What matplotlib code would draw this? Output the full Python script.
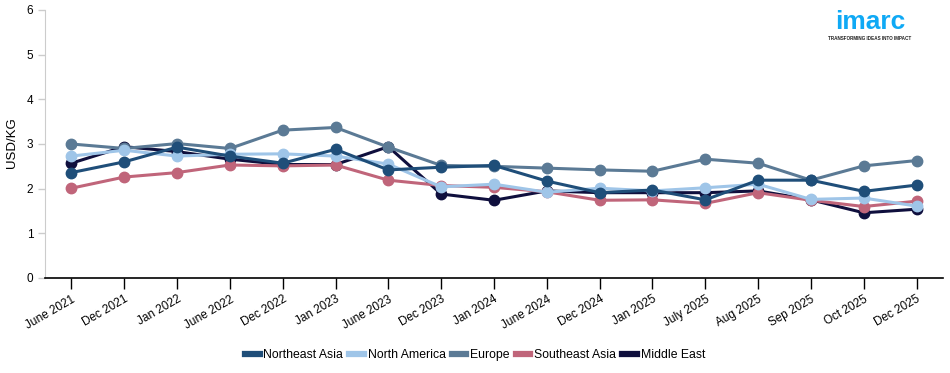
import matplotlib.pyplot as plt
from matplotlib.lines import Line2D

plt.rcParams['font.family'] = ['Liberation Sans', 'DejaVu Sans']

dates = ["June 2021", "Dec 2021", "Jan 2022", "June 2022", "Dec 2022", "Jan 2023",
         "June 2023", "Dec 2023", "Jan 2024", "June 2024", "Dec 2024", "Jan 2025",
         "July 2025", "Aug 2025", "Sep 2025", "Oct 2025", "Dec 2025"]

northeast_asia = [2.36, 2.60, 2.93, 2.73, 2.57, 2.88, 2.42, 2.48, 2.52, 2.17, 1.91, 1.97,
                  1.75, 2.19, 2.19, 1.94, 2.08]
north_america = [2.73, 2.86, 2.73, 2.77, 2.78, 2.73, 2.55, 2.04, 2.10, 1.92, 2.01, 1.95,
                 2.02, 2.10, 1.76, 1.79, 1.61]
europe = [3.00, 2.90, 3.01, 2.90, 3.31, 3.37, 2.93, 2.52, 2.50, 2.46, 2.42, 2.39,
          2.66, 2.57, 2.19, 2.51, 2.63]
southeast_asia = [2.01, 2.26, 2.36, 2.53, 2.51, 2.53, 2.19, 2.07, 2.03, 1.93, 1.74, 1.75,
                  1.67, 1.91, 1.74, 1.60, 1.72]
middle_east = [2.57, 2.94, 2.83, 2.66, 2.54, 2.54, 2.94, 1.88, 1.74, 1.95, 1.91, 1.91,
               1.91, 1.95, 1.75, 1.46, 1.54]

series = [
    ("Northeast Asia", northeast_asia, "#1f4e79", 6),
    ("North America", north_america, "#9fc5e8", 5),
    ("Europe", europe, "#5b7a95", 4),
    ("Southeast Asia", southeast_asia, "#c0657a", 3),
    ("Middle East", middle_east, "#0f0f3d", 2),
]

fig = plt.figure(figsize=(9.5, 3.73), dpi=100)
ax = fig.add_axes([45 / 950, 1 - 278 / 373, 898 / 950, 268 / 373])

x = list(range(len(dates)))
for name, vals, color, z in series:
    ax.plot(x, vals, '-o', color=color, lw=2.2, markersize=7.5, zorder=z, label=name)

ax.set_xlim(-0.5, len(dates) - 0.5)
ax.set_ylim(0, 6)
ax.set_yticks(range(0, 7))
ax.set_xticks(x)
ax.set_xticklabels(dates, rotation=30, ha='right', rotation_mode='anchor', fontsize=8.5)
ax.tick_params(axis='x', length=8, width=1, color='black', pad=3)
ax.tick_params(axis='y', length=5, width=1, color='#cccccc', labelsize=8.5)

for s in ['top', 'right']:
    ax.spines[s].set_visible(False)
ax.spines['left'].set_color('#cccccc')
ax.spines['bottom'].set_color('black')
ax.spines['bottom'].set_linewidth(1.2)

fig.text(12 / 950, 1 - 143 / 373, "USD/KG", rotation=90, ha='center', va='center', fontsize=9.5)

handles = [Line2D([0], [0], color=c, lw=4.5) for _, _, c, _ in series]
fig.legend(handles, [n for n, _, _, _ in series], loc='center', ncol=5,
           bbox_to_anchor=(0.5, 1 - 355 / 373), frameon=False, fontsize=8.8,
           handlelength=1.2, handletextpad=0.3, columnspacing=0.5)

# logo
fig.text(870 / 950, 1 - 22 / 373, "imarc", color="#0fa9f5", fontsize=19, fontweight='bold',
         ha='center', va='center')
fig.text(870 / 950, 1 - 39 / 373, "TRANSFORMING IDEAS INTO IMPACT", color="#222222",
         fontsize=3.3, fontweight='bold', ha='center', va='center')

fig.savefig("out.png", dpi=100)
